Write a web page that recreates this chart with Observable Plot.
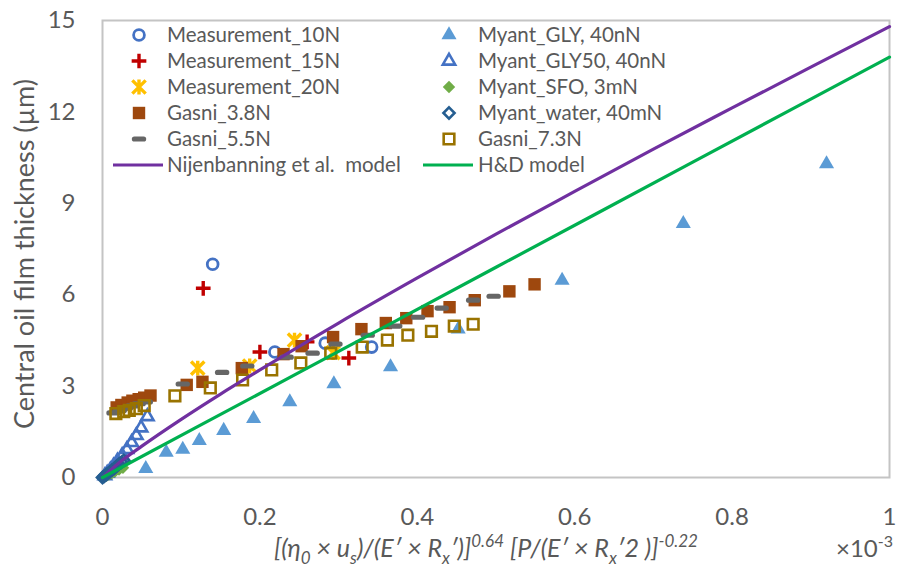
<!DOCTYPE html>
<html>
<head>
<meta charset="utf-8">
<script src="https://cdn.jsdelivr.net/npm/d3@7"></script>
<script src="https://cdn.jsdelivr.net/npm/@observablehq/plot@0.6"></script>
<style>
  body { margin: 0; background: #fff; }
  #chart { position: relative; width: 898px; height: 571px; }
  #chart svg { overflow: visible; }
</style>
</head>
<body>
<div id="chart"></div>
<script>
// Film thickness data, x in units of 1e-3 of the dimensionless group, y in µm
const measurement10N = [[0.140, 7.00], [0.219, 4.12], [0.283, 4.41], [0.342, 4.28]];
const measurement15N = [[0.128, 6.21], [0.200, 4.12], [0.260, 4.45], [0.313, 3.92]];
const measurement20N = [[0.121, 3.59], [0.187, 3.66], [0.244, 4.51], [0.293, 4.10]];
const gasni38N = [
  [0.018, 2.30], [0.024, 2.38], [0.032, 2.46], [0.038, 2.52], [0.046, 2.57], [0.053, 2.62], [0.061, 2.69],
  [0.107, 3.04], [0.127, 3.14], [0.177, 3.59], [0.230, 4.05], [0.253, 4.31], [0.293, 4.61],
  [0.329, 4.87], [0.360, 5.07], [0.386, 5.23], [0.413, 5.46], [0.441, 5.59], [0.473, 5.82],
  [0.517, 6.11], [0.549, 6.34]
];
const gasni55N = [
  [0.014, 2.12], [0.022, 2.20], [0.030, 2.28], [0.038, 2.35], [0.046, 2.42], [0.055, 2.48],
  [0.102, 3.07], [0.152, 3.45], [0.184, 3.66], [0.234, 3.95], [0.267, 4.08], [0.296, 4.38],
  [0.337, 4.67], [0.372, 4.97], [0.401, 5.26], [0.431, 5.56], [0.471, 5.82], [0.497, 5.95]
];
const gasni73N = [
  [0.017, 2.10], [0.027, 2.16], [0.034, 2.20], [0.043, 2.26], [0.053, 2.36],
  [0.092, 2.68], [0.137, 2.94], [0.178, 3.20], [0.215, 3.53], [0.252, 3.76], [0.290, 4.08],
  [0.330, 4.28], [0.362, 4.51], [0.388, 4.67], [0.418, 4.80], [0.447, 4.97], [0.471, 5.03]
];
const myantGLY = [
  [0.055, 0.29], [0.081, 0.82], [0.102, 0.92], [0.123, 1.21], [0.154, 1.54], [0.192, 1.93],
  [0.238, 2.48], [0.294, 3.07], [0.366, 3.63], [0.452, 4.87], [0.584, 6.47], [0.738, 8.33], [0.920, 10.29]
];
const myantGLY50 = [
  [0.003, 0.06], [0.006, 0.14], [0.010, 0.25], [0.014, 0.38], [0.019, 0.54], [0.025, 0.72],
  [0.031, 0.92], [0.037, 1.15], [0.043, 1.38], [0.049, 1.63], [0.057, 2.00]
];
const myantSFO = [[0.002, 0.02], [0.005, 0.06], [0.008, 0.10], [0.012, 0.15], [0.016, 0.20], [0.021, 0.26], [0.026, 0.32]];
const myantWater = [
  [0.000, 0.00], [0.002, 0.04], [0.004, 0.08], [0.006, 0.12], [0.009, 0.18], [0.012, 0.24],
  [0.015, 0.30], [0.018, 0.37], [0.021, 0.44], [0.024, 0.50], [0.027, 0.56]
];
// Model curves
const nijenbanningX = [0, 0.02, 0.05, 0.1, 0.15, 0.2, 0.3, 0.4, 0.5, 0.6, 0.7, 0.8, 0.9, 1.0];
const nijenbanningY = [0, 0.46, 1.03, 1.91, 2.74, 3.53, 5.07, 6.55, 7.99, 9.39, 10.78, 12.13, 13.47, 14.8];
const hdX = [0, 0.25, 0.5, 0.75, 1.0];
const hdY = [0, 3.45, 6.9, 10.35, 13.8];

const xTicks = [0, 0.2, 0.4, 0.6, 0.8, 1];
const yTicks = [0, 3, 6, 9, 12, 15];

const rows = pts => pts.map(([x, y]) => ({x, y}));
const zipRows = (xs, ys) => xs.map((x, i) => ({x, y: ys[i]}));

// Excel-style "star": an X crossed by a vertical bar
const starSymbol = {
  draw(ctx, size) {
    const r = Math.sqrt(size / Math.PI);
    ctx.moveTo(-r * 0.9, -r * 0.9); ctx.lineTo(r * 0.9, r * 0.9);
    ctx.moveTo(r * 0.9, -r * 0.9); ctx.lineTo(-r * 0.9, r * 0.9);
    ctx.moveTo(0, -r); ctx.lineTo(0, r);
  }
};
// Short horizontal dash marker
const dashSymbol = {
  draw(ctx, size) {
    const r = Math.sqrt(size / Math.PI);
    const h = r * 0.36;
    ctx.moveTo(-r + h, -h); ctx.lineTo(r - h, -h);
    ctx.arc(r - h, 0, h, -Math.PI / 2, Math.PI / 2);
    ctx.lineTo(-r + h, h);
    ctx.arc(-r + h, 0, h, Math.PI / 2, Math.PI * 1.5);
    ctx.closePath();
  }
};

const series = [
  {name: "Measurement_10N", data: measurement10N, symbol: d3.symbolCircle, fill: "none", stroke: "#4472C4", r: 5.4, sw: 2.8},
  {name: "Measurement_15N", data: measurement15N, symbol: d3.symbolPlus, fill: "none", stroke: "#C00000", r: 4.8, sw: 3.4},
  {name: "Measurement_20N", data: measurement20N, symbol: starSymbol, fill: "none", stroke: "#FFC000", r: 7.4, sw: 3.4},
  {name: "Gasni_3.8N", data: gasni38N, symbol: d3.symbolSquare, fill: "#9E480E", stroke: "none", r: 7, sw: 0},
  {name: "Gasni_5.5N", data: gasni55N, symbol: dashSymbol, fill: "#666666", stroke: "none", r: 7.2, sw: 0},
  {name: "Myant_GLY, 40nN", data: myantGLY, symbol: d3.symbolTriangle, fill: "#5B9BD5", stroke: "none", r: 5.6, sw: 0},
  {name: "Myant_GLY50, 40nN", data: myantGLY50, symbol: d3.symbolTriangle, fill: "none", stroke: "#4472C4", r: 4.6, sw: 2.6},
  {name: "Myant_SFO, 3mN", data: myantSFO, symbol: d3.symbolDiamond2, fill: "#70AD47", stroke: "none", r: 5.6, sw: 0},
  {name: "Myant_water, 40mN", data: myantWater, symbol: d3.symbolDiamond2, fill: "none", stroke: "#255E91", r: 5, sw: 2.6},
  {name: "Gasni_7.3N", data: gasni73N, symbol: d3.symbolSquare, fill: "none", stroke: "#997300", r: 6, sw: 2.6}
];
const models = [
  {name: "Nijenbanning et al.  model", data: zipRows(nijenbanningX, nijenbanningY), stroke: "#7030A0"},
  {name: "H&D model", data: zipRows(hdX, hdY), stroke: "#00B050"}
];

const ink = "#595959";
const font = "Lato, 'Open Sans', sans-serif";

const chart = Plot.plot({
  width: 898,
  height: 571,
  marginLeft: 102,
  marginRight: 9,
  marginTop: 20,
  marginBottom: 94,
  style: {fontFamily: font, fontSize: "24px", color: ink, background: "#fff"},
  x: {domain: [0, 1], ticks: xTicks, tickSize: 0, tickPadding: 30, label: null,
      tickFormat: d => d === 0 ? "0" : d === 1 ? "1" : d3.format(".1f")(d)},
  y: {domain: [0, 15], ticks: yTicks, tickSize: 0, tickPadding: 27, label: null},
  marks: [
    Plot.frame({stroke: "#c4c4c4", strokeWidth: 2}),
    ...series.map(s => Plot.dot(rows(s.data), {
      x: "x", y: "y", symbol: () => s.symbol, r: s.r,
      fill: s.fill, stroke: s.stroke, strokeWidth: s.sw
    })),
    ...models.map(m => Plot.line(m.data, {x: "x", y: "y", stroke: m.stroke, strokeWidth: 3.2, curve: "monotone-x"}))
  ]
});
document.getElementById("chart").appendChild(chart);

const svg = d3.select(chart);

// Axis titles
svg.append("text")
  .attr("transform", "translate(27,254) rotate(-90)")
  .attr("text-anchor", "middle")
  .attr("dominant-baseline", "middle")
  .style("font-family", font).style("font-size", "27px").attr("fill", ink)
  .text("Central oil film thickness (µm)");

const xLabelParts = [
  ["[(η", 0], ["0", 1], [" × u", 0], ["s", 1], [")/(E′ × R", 0], ["x", 1], ["′)]", 0],
  ["0.64", -1], [" [P/(E′ × R", 0], ["x", 1], ["′2 )]", 0], ["-0.22", -1]
];
const xl = svg.append("text")
  .attr("x", 486).attr("y", 557)
  .attr("text-anchor", "middle")
  .style("font-family", font).style("font-size", "25px").style("font-style", "italic")
  .attr("fill", ink);
let shift = 0;
for (const [t, k] of xLabelParts) {
  const target = k === 1 ? 7 : k === -1 ? -10 : 0;
  xl.append("tspan").attr("dy", target - shift).style("font-size", k ? "17px" : null).text(t);
  shift = target;
}
const sc = svg.append("text")
  .attr("x", 836).attr("y", 557)
  .attr("text-anchor", "start")
  .style("font-family", font).style("font-size", "24px").attr("fill", ink);
sc.append("tspan").text("×10");
sc.append("tspan").attr("dy", -10).style("font-size", "16px").text("-3");

// Legend, two columns inside the plot frame
const legendOrderLeft = ["Measurement_10N", "Measurement_15N", "Measurement_20N", "Gasni_3.8N", "Gasni_5.5N"];
const legendOrderRight = ["Myant_GLY, 40nN", "Myant_GLY50, 40nN", "Myant_SFO, 3mN", "Myant_water, 40mN", "Gasni_7.3N"];
const rowY = i => 35 + i * 26;
const legend = svg.append("g")
  .attr("text-anchor", "start")
  .style("font-family", font).style("font-size", "20.5px");
function legendEntry(s, sx, tx, y) {
  legend.append("path")
    .attr("transform", `translate(${sx},${y})`)
    .attr("d", d3.symbol(s.symbol, Math.PI * s.r * s.r)())
    .attr("fill", s.fill).attr("stroke", s.stroke).attr("stroke-width", s.sw);
  legend.append("text").attr("x", tx).attr("y", y).attr("dy", "0.35em").attr("fill", ink).text(s.name);
}
legendOrderLeft.forEach((n, i) => legendEntry(series.find(s => s.name === n), 139, 167, rowY(i)));
legendOrderRight.forEach((n, i) => legendEntry(series.find(s => s.name === n), 449, 478, rowY(i)));
[[models[0], 113, 163, 167], [models[1], 423, 473, 478]].forEach(([m, x1, x2, tx]) => {
  legend.append("line").attr("x1", x1).attr("x2", x2).attr("y1", rowY(5)).attr("y2", rowY(5))
    .attr("stroke", m.stroke).attr("stroke-width", 3.2);
  legend.append("text").attr("x", tx).attr("y", rowY(5)).attr("dy", "0.35em").attr("fill", ink).text(m.name);
});
</script>
</body>
</html>
